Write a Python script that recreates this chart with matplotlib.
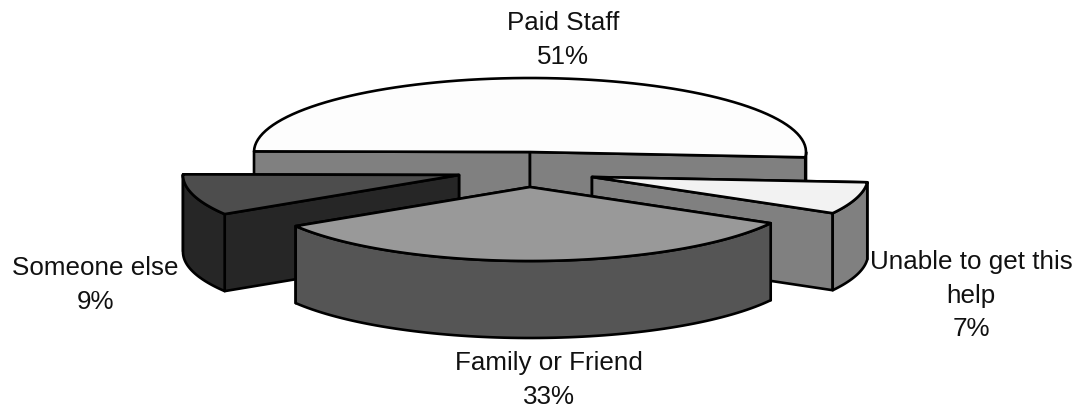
import numpy as np
import matplotlib
matplotlib.use("Agg")
import matplotlib.pyplot as plt
from matplotlib.patches import Polygon

# slices in the order they run clockwise from the left edge
names = ["Paid Staff", "Unable to get this\nhelp", "Family or Friend", "Someone else"]
shares = [51, 7, 33, 9]

# look of the slices
top_colors = ["#fdfdfd", "#f2f2f2", "#999999", "#4d4d4d"]
wall_colors = ["#808080", "#808080", "#555555", "#262626"]
apex_xy = [(530, 152), (592, 177), (530, 187), (459, 175)]
label_xy = [(563, 40), (971, 296), (549, 380), (95, 285)]
draw_order = [0, 3, 1, 2]

rx, ry = 276, 74
depth = 77
start_angle = 179.5


def rim(apex, a1, a2, n=80):
    t = np.radians(np.linspace(a1, a2, n))
    return np.column_stack([apex[0] + rx * np.cos(t), apex[1] - ry * np.sin(t)])


def face(points, color, ax):
    ax.add_patch(Polygon(points, closed=True, facecolor=color, edgecolor="black",
                         linewidth=1.9, joinstyle="round"))


plt.rcParams["font.family"] = ["Liberation Sans", "DejaVu Sans"]
fig = plt.figure(figsize=(10.81, 4.08), dpi=100)
ax = fig.add_axes([0, 0, 1, 1])
ax.set_xlim(0, 1081)
ax.set_ylim(408, 0)
ax.axis("off")

ends = start_angle - np.cumsum(shares) * 3.6
starts = np.concatenate([[start_angle], ends[:-1]])

for i in draw_order:
    apex = apex_xy[i]
    a1, a2 = starts[i], ends[i]
    drop = np.array([0, depth])
    # flat cut faces, the one further back first
    cuts = sorted([a1, a2], key=lambda a: rim(apex, a, a, 1)[0, 1])
    for a in cuts:
        p = rim(apex, a, a, 1)[0]
        face([apex, p, p + drop, np.array(apex) + drop], wall_colors[i], ax)
    # curved outer wall, only the part in the front half shows
    hi_part = min(a1, 0)
    lo_part = max(a2, -180)
    if hi_part > lo_part:
        arc = rim(apex, hi_part, lo_part)
        face(np.vstack([arc, arc[::-1] + drop]), wall_colors[i], ax)
    face(np.vstack([[apex], rim(apex, a1, a2)]), top_colors[i], ax)

for name, share, xy in zip(names, shares, label_xy):
    ax.text(xy[0], xy[1], f"{name}\n{share}%", ha="center", va="center",
            fontsize=18.7, color="#111111", linespacing=1.5)

fig.savefig("out.png", dpi=100)
